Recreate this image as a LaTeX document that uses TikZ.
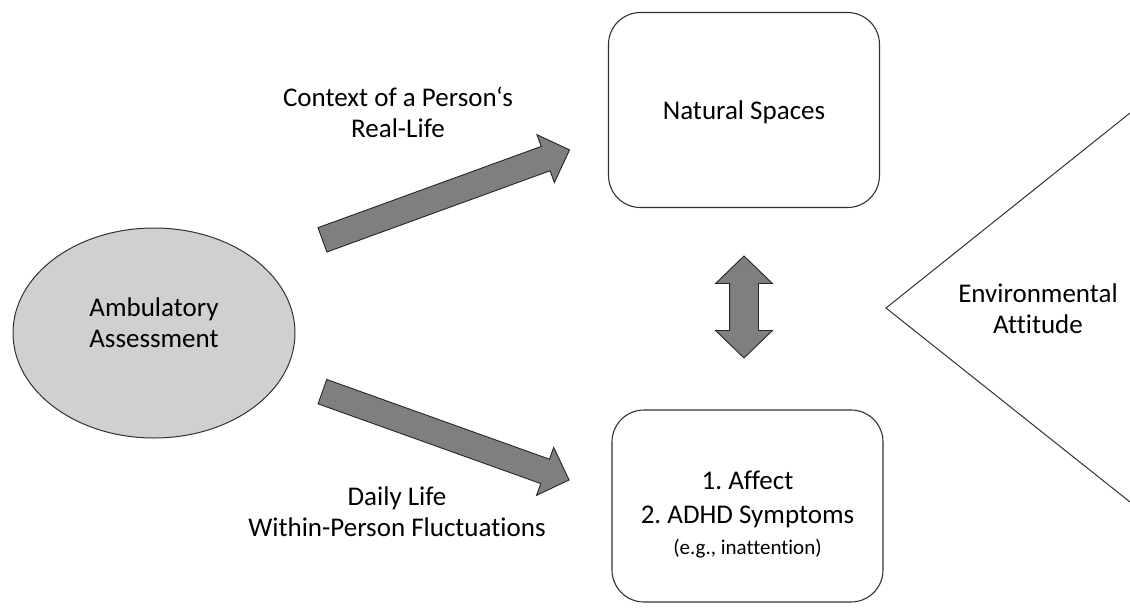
\documentclass[tikz,border=0pt]{standalone}
\usepackage{fontspec}
\setmainfont{Carlito}[Ligatures={NoCommon}]
\frenchspacing
\usetikzlibrary{shapes.geometric,shapes.arrows}
\definecolor{ellfill}{RGB}{208,208,208}
\definecolor{arrfill}{RGB}{127,127,127}
\definecolor{edge}{RGB}{50,50,50}
\begin{document}
\begin{tikzpicture}[x=1pt,y=-1pt,
  txt/.style={font=\fontsize{27}{31}\selectfont, align=center, inner sep=0pt},
  roundbox/.style={draw=edge, line width=1.1pt, rounded corners=32pt, minimum width=271pt, inner sep=0pt},
  blockarrow/.style={draw=black!85, line width=0.9pt, fill=arrfill, inner xsep=0pt},
]
\useasboundingbox (0,0) rectangle (1130,608);

% Ambulatory Assessment ellipse
\node[ellipse, draw=edge, line width=1pt, fill=ellfill, minimum width=282pt, minimum height=210pt, inner sep=0pt] (amb) at (154,333) {};
\node[txt] (ambtxt) at ([yshift=10pt]amb.center) {Ambulatory\\Assessment};

% Natural Spaces box
\node[roundbox, minimum height=195pt] (nat) at (744,110) {};
\node[txt] (nattxt) at ([yshift=-2pt]nat.center) {Natural Spaces};

% Affect / ADHD box
\node[roundbox, minimum height=192pt] (adhd) at (747.5,506) {};
\node[txt] (adhdtxt) at ([yshift=-9pt]adhd.center) {1. Affect\\[3pt]2. ADHD Symptoms\\{\fontsize{21}{25}\selectfont (e.g., inattention)}};

% Block arrows
\node[blockarrow, single arrow, inner ysep=12.5pt, minimum height=263pt,
      single arrow head extend=12.5pt, single arrow tip angle=90, rotate=20, anchor=tail] (upar) at (322,240) {};
\node[blockarrow, single arrow, inner ysep=12.5pt, minimum height=262pt,
      single arrow head extend=12.5pt, single arrow tip angle=90, rotate=-19.7, anchor=tail] (downar) at (322,391.5) {};
\node[blockarrow, double arrow, inner ysep=14pt, minimum height=102pt,
      double arrow head extend=14pt, double arrow tip angle=92, rotate=90] (dbl) at (744,307) {};

% Arrow labels
\node[txt] (ctx) at (398,112) {Context of a Person‘s\\Real-Life};
\node[txt] (daily) at (397,512) {Daily Life\\Within-Person Fluctuations};

% Environmental Attitude wedge
\coordinate (apex) at (886,308);
\coordinate (wtop) at (1130,113);
\coordinate (wbot) at (1130,502);
\draw[edge, line width=1pt] (wtop) -- (apex) -- (wbot);
\node[txt] (env) at (1038,309) {Environmental\\Attitude};
\end{tikzpicture}
\end{document}
